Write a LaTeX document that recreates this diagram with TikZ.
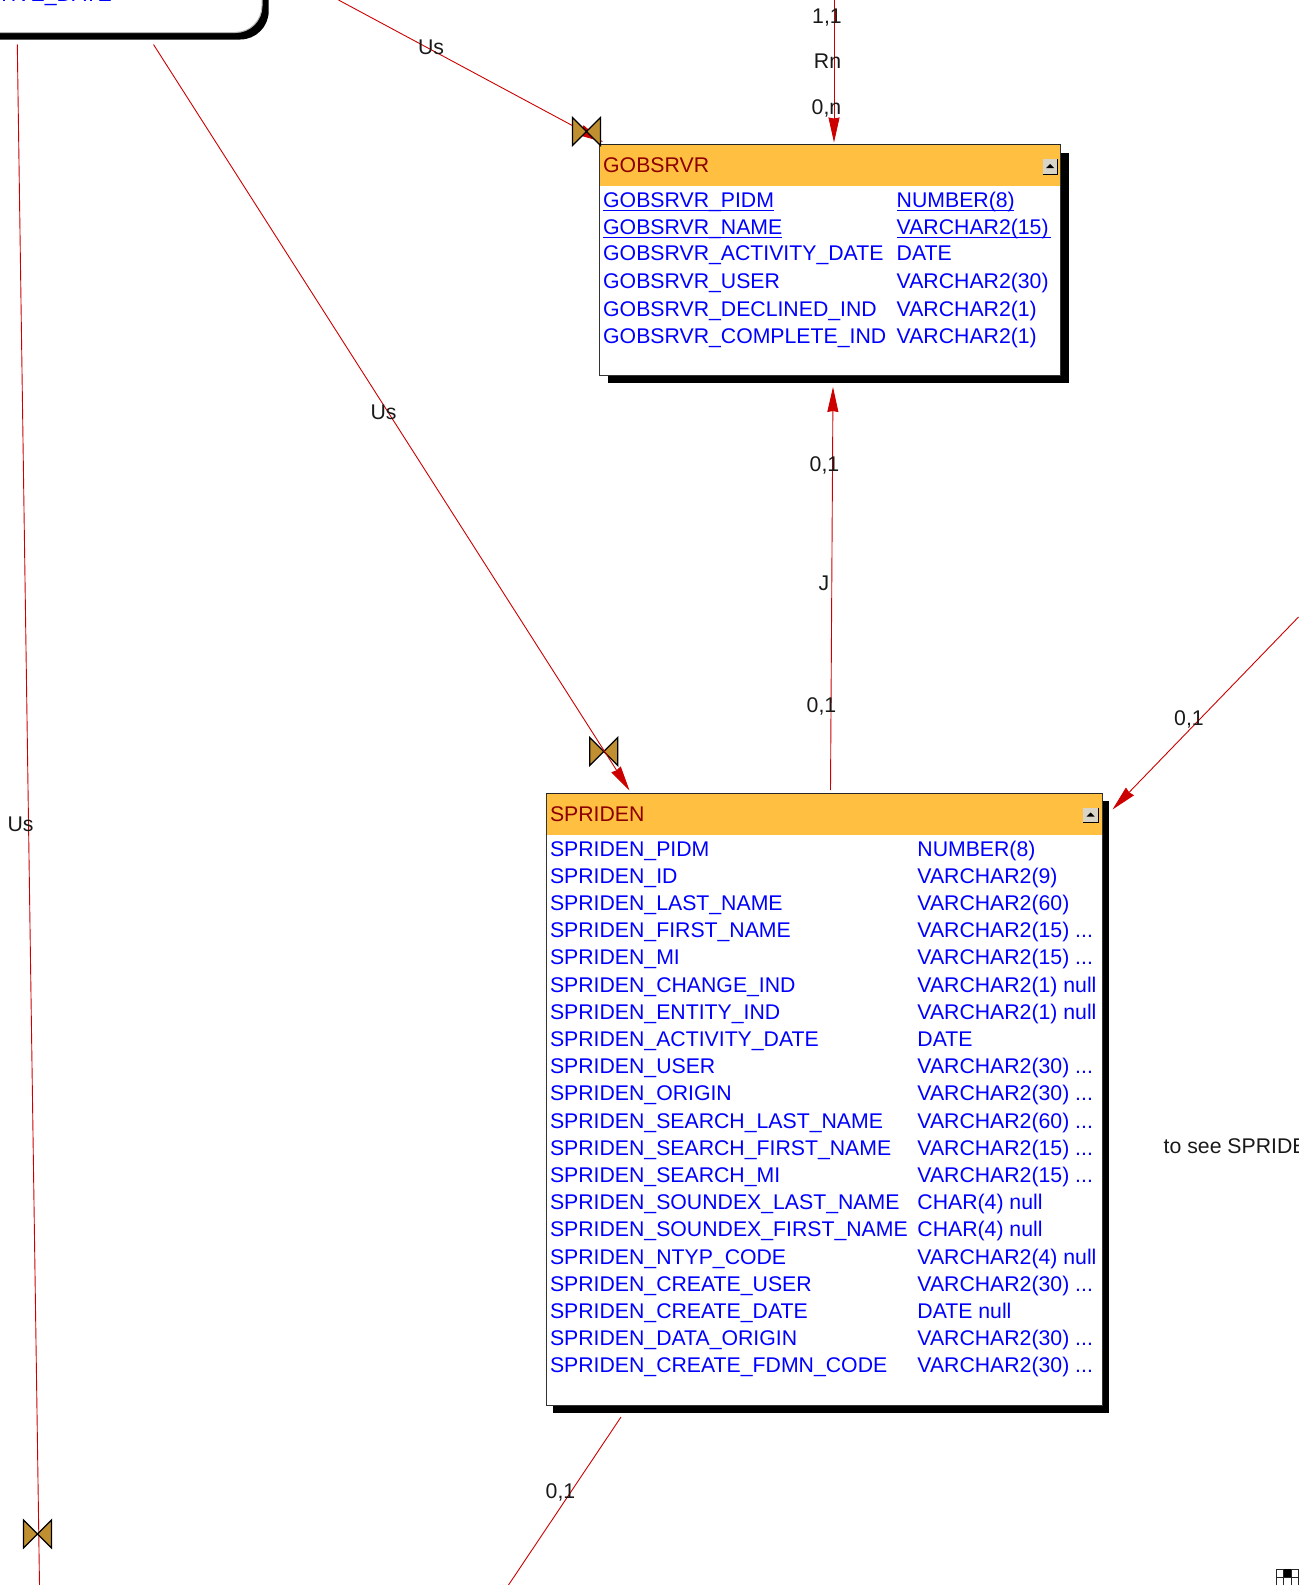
\documentclass[tikz,border=0pt]{standalone}
\usepackage{fontspec}
\setmainfont{Liberation Sans}
\usetikzlibrary{arrows.meta}
\definecolor{rel}{HTML}{CC0000}
\definecolor{gold}{HTML}{FFBF40}
\definecolor{tie}{HTML}{C09030}
\definecolor{hdr}{HTML}{8B0000}
\definecolor{btn}{HTML}{D8D4C8}
\definecolor{fld}{HTML}{0000FF}
\tikzset{
  x=1pt,y=-1pt,
  txt/.style={font=\fontsize{21.25}{21.25}\selectfont,inner sep=0pt,anchor=base west},
  field/.style={txt,text=fld},
  title/.style={txt,text=hdr},
  lab/.style={font=\fontsize{21.25}{21.25}\selectfont,inner sep=0pt,text=black!90},
  relarrow/.style={draw=rel,line width=0.9pt,-{Stealth[length=25pt,width=11pt,inset=1pt,fill=rel]}},
  relplain/.style={draw=rel,line width=0.9pt},
  tabbody/.style={draw=black!80,fill=white,line width=1pt},
  shad/.style={fill=black,draw=none},
  tiefill/.style={fill=tie,draw=black,line width=1.2pt,line join=miter},
}
\newcommand{\tiemark}[2]{\draw[tiefill] (#1-14,#2-14) -- (#1+14,#2+14) -- (#1+14,#2-14) -- (#1-14,#2+14) -- cycle;}
\newcommand{\ubar}[3]{\fill[fld] (#1,#3) rectangle (#2,#3+1.6);}
\newcommand{\colbtn}[2]{%
  \fill[btn] (#1,#2) rectangle (#1+15,#2+15);
  \draw[black,line width=1pt] (#1,#2+15) -- (#1+15,#2+15) -- (#1+15,#2);
  \fill[black] (#1+3.5,#2+9) -- (#1+11.5,#2+9) -- (#1+7.5,#2+5) -- cycle;}
\newcommand{\ddd}{...}
\begin{document}
\begin{tikzpicture}
\useasboundingbox (0,0) rectangle (1306,1585);
% top left table fragment
\fill[black] (-20,-40) -- (268.7,-40) -- (268.7,11) arc[start angle=0,end angle=90,radius=28.5] -- (-20,39.5) -- cycle;
\draw[draw=black!30,fill=white,line width=1pt] (-20,-40) -- (262,-40) -- (262,6) arc[start angle=0,end angle=90,radius=26.5] -- (-20,32.5) -- cycle;
\node[field,anchor=base east] (oldfield) at (112,1) {TIVE\_DATE};
% anchors
\coordinate (a1) at (338.5,0);
\coordinate (t1) at (603,142);
\coordinate (a2) at (153.5,44.5);
\coordinate (t2) at (629.5,790.5);
\coordinate (a3) at (17.3,44.5);
\coordinate (b3) at (39.5,1585);
\coordinate (a4) at (834,0);
\coordinate (t4) at (834,142.5);
\coordinate (a5) at (830.5,790);
\coordinate (t5) at (833,387);
\coordinate (a6) at (1298.5,617);
\coordinate (t6) at (1112.5,809.5);
\coordinate (a7) at (621,1417);
\coordinate (b7) at (508.5,1585);
% GOBSRVR shadow & body
\fill[shad] (607.5,153) rectangle (1069,383);
\draw[tabbody] (599.8,144.8) rectangle (1060.8,375.8);
\fill[gold] (600.3,145.3) rectangle (1060.3,185.5);
\draw[black!85,line width=1pt] (599.8,144.8) -- (1060.8,144.8);
\colbtn{1042.5}{159}
\node[title] (gt) at (603,172.3) {GOBSRVR};
\foreach \n/\t/\a/\b in {1/207.3/GOBSRVR\_PIDM/NUMBER(8),2/234.3/GOBSRVR\_NAME/VARCHAR2(15),3/260.8/GOBSRVR\_ACTIVITY\_DATE/DATE,4/288.8/GOBSRVR\_USER/VARCHAR2(30),5/316/GOBSRVR\_DECLINED\_IND/VARCHAR2(1),6/343.2/GOBSRVR\_COMPLETE\_IND/VARCHAR2(1)}{
  \node[field] (gl\n) at (603,\t) {\a};
  \node[field] (gr\n) at (896.5,\t) {\b};
}
\ubar{603}{774}{209.5}
\ubar{896.5}{1014}{209.5}
\ubar{603}{782}{236.5}
\ubar{896.5}{1050.5}{236.5}
% SPRIDEN shadow & body
\fill[shad] (553,801) rectangle (1109,1412.7);
\draw[tabbody] (546,793.3) rectangle (1102,1405);
\fill[gold] (546.5,793.8) rectangle (1101.5,835);
\draw[black!85,line width=1pt] (546,793.3) -- (1102,793.3);
\colbtn{1083}{807.5}
\node[title] (st) at (549.8,821) {SPRIDEN};
\foreach \n/\a/\b in {0/SPRIDEN\_PIDM/NUMBER(8),1/SPRIDEN\_ID/VARCHAR2(9),2/SPRIDEN\_LAST\_NAME/VARCHAR2(60),3/SPRIDEN\_FIRST\_NAME/VARCHAR2(15) \ddd,4/SPRIDEN\_MI/VARCHAR2(15) \ddd,5/SPRIDEN\_CHANGE\_IND/VARCHAR2(1) null,6/SPRIDEN\_ENTITY\_IND/VARCHAR2(1) null,7/SPRIDEN\_ACTIVITY\_DATE/DATE,8/SPRIDEN\_USER/VARCHAR2(30) \ddd,9/SPRIDEN\_ORIGIN/VARCHAR2(30) \ddd,10/SPRIDEN\_SEARCH\_LAST\_NAME/VARCHAR2(60) \ddd,11/SPRIDEN\_SEARCH\_FIRST\_NAME/VARCHAR2(15) \ddd,12/SPRIDEN\_SEARCH\_MI/VARCHAR2(15) \ddd,13/SPRIDEN\_SOUNDEX\_LAST\_NAME/CHAR(4) null,14/SPRIDEN\_SOUNDEX\_FIRST\_NAME/CHAR(4) null,15/SPRIDEN\_NTYP\_CODE/VARCHAR2(4) null,16/SPRIDEN\_CREATE\_USER/VARCHAR2(30) \ddd,17/SPRIDEN\_CREATE\_DATE/DATE null,18/SPRIDEN\_DATA\_ORIGIN/VARCHAR2(30) \ddd,19/SPRIDEN\_CREATE\_FDMN\_CODE/VARCHAR2(30) \ddd}{
  \pgfmathsetmacro{\yy}{856+27.2*\n}
  \node[field] (sl\n) at (549.8,\yy) {\a};
  \node[field] (sr\n) at (917.2,\yy) {\b};
}
% connectors and tie marks
\draw[relarrow] (a1) -- (t1);
\draw[relplain] (a3) -- (b3);
\tiemark{586.5}{131.5}
\tiemark{603.7}{751.5}
\tiemark{37.5}{1534}
\draw[relarrow] (a2) -- (t2);
\draw[relarrow] (a4) -- (t4);
\draw[relarrow] (a5) -- (t5);
\draw[relarrow] (a6) -- (t6);
\draw[relplain] (a7) -- (b7);
% labels
\node[lab] (l1) at (827,17.5) {1,1};
\node[lab] (l2) at (827.5,61) {Rn};
\node[lab] (l3) at (826.5,108) {0,n};
\node[lab] (l4) at (431,47) {Us};
\node[lab] (l5) at (383.5,412) {Us};
\node[lab] (l6) at (20.5,824) {Us};
\node[lab] (l7) at (824.5,465) {0,1};
\node[lab] (l8) at (824,583) {J};
\node[lab] (l9) at (821.5,706) {0,1};
\node[lab] (l10) at (1189,719) {0,1};
\node[lab] (l11) at (560.5,1492) {0,1};
\node[lab,anchor=base west] (l12) at (1163.5,1153) {to see SPRIDEN};
% page-edge mask and corner navigator
\fill[white] (1299,-1) rectangle (1307,1586);
\foreach \i/\j in {0/0,1/0,2/0,0/1,1/1,2/1}{
  \draw[black!85,line width=1pt] (1276+\i*7.6,1569+\j*8) rectangle ++(7.6,8);
}
\fill[black] (1283.6,1569) rectangle (1291.2,1577);
\end{tikzpicture}
\end{document}
